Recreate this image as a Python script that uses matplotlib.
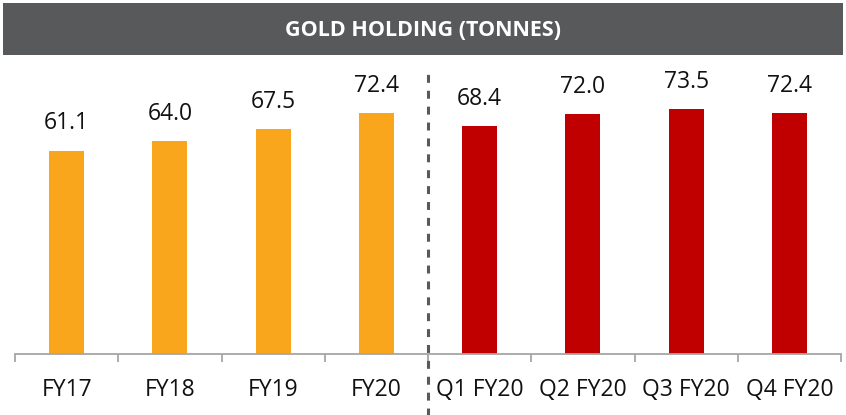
import matplotlib
matplotlib.use("Agg")
import matplotlib.pyplot as plt
from matplotlib.patches import Rectangle
import numpy as np

categories = ["FY17", "FY18", "FY19", "FY20", "Q1 FY20", "Q2 FY20", "Q3 FY20", "Q4 FY20"]
values = [61.1, 64.0, 67.5, 72.4, 68.4, 72.0, 73.5, 72.4]
labels = ["61.1", "64.0", "67.5", "72.4", "68.4", "72.0", "73.5", "72.4"]
title = "GOLD HOLDING (TONNES)"

ORANGE = "#F9A61C"
RED = "#C00000"
colors = [ORANGE] * 4 + [RED] * 4

plt.rcParams['font.family'] = ['Open Sans', 'DejaVu Sans']

fig = plt.figure(figsize=(8.46, 4.15), dpi=100)
ax = fig.add_axes([15/846, 1 - 354/415, 826/846, (354 - 60)/415])

x = np.arange(len(categories))
ax.bar(x, values, width=0.34, color=colors, zorder=2)
for xi, v, lab in zip(x, values, labels):
    ax.annotate(lab, (xi, v), xytext=(0, 11), textcoords="offset points",
                ha="center", va="bottom", fontsize=16.5, color="#111111")

ax.set_xlim(-0.5, len(categories) - 0.5)
ax.set_ylim(0, (354 - 60) / 3.33)
ax.set_yticks([])
for s in ["top", "right", "left"]:
    ax.spines[s].set_visible(False)
ax.spines["bottom"].set_color("#A6A6A6")
ax.spines["bottom"].set_linewidth(1.3)

ax.set_xticks(x)
ax.set_xticklabels(categories, fontsize=16.5, color="#111111")
ax.tick_params(axis="x", which="major", length=0, pad=17)
ax.set_xticks(np.arange(len(categories) + 1) - 0.5, minor=True)
ax.tick_params(axis="x", which="minor", length=6, width=1.3, color="#A6A6A6")

# dashed separator
ax.axvline(3.5, ymin=-0.21, ymax=(354 - 71) / (354 - 60), color="#595959",
           linestyle=(0, (2.6, 2.6)), linewidth=2.2, clip_on=False, zorder=3)

# title banner
fig.patches.append(Rectangle((3/846, 1 - 55/415), 840/846, 52/415,
                             transform=fig.transFigure, facecolor="#58595B",
                             edgecolor="none", zorder=0))
fig.text(0.5, 1 - 30/415, title, ha="center", va="center", color="white",
         fontsize=15.5, fontweight="bold")

fig.savefig("out.png", dpi=100)
